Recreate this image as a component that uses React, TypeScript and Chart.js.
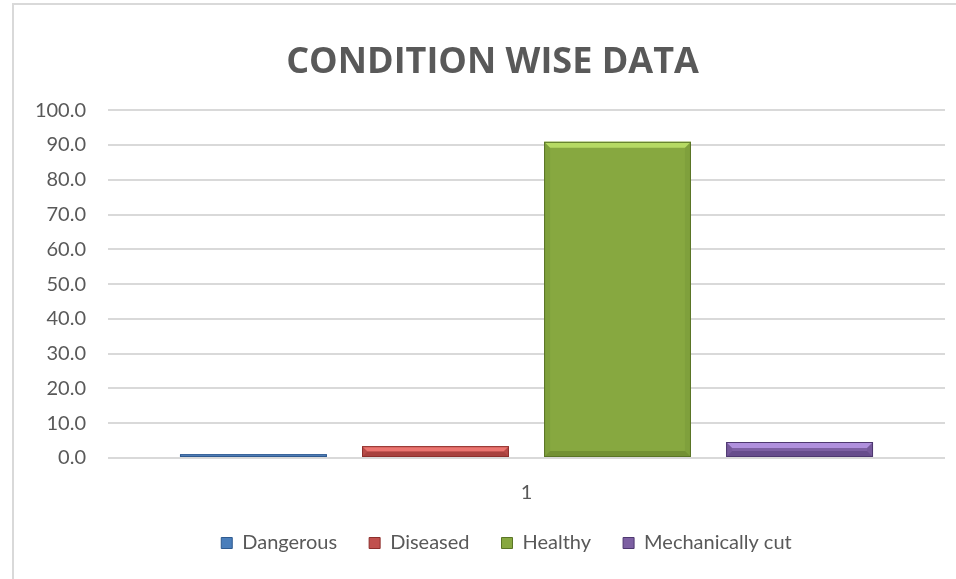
import React, { useEffect, useRef } from "react";
import { Chart, registerables } from "chart.js";

Chart.register(...registerables);

const categories = ["1"];
const seriesNames = ["Dangerous", "Diseased", "Healthy", "Mechanically cut"];
const dangerous = [1.1];
const diseased = [3.4];
const healthy = [90.9];
const mechanicallyCut = [4.6];
const yMin = 0;
const yMax = 100;
const yStep = 10;
const titleText = "CONDITION WISE DATA";

const seriesColors = ["#4A7EBB", "#C0504D", "#87A840", "#7D60A3"];
const seriesLight = ["#7FA9E0", "#F27B77", "#BEE36A", "#B899E8"];
const seriesDark = ["#2F5A8F", "#8C2F2C", "#5A7526", "#4E3870"];

// Excel centres title/legend on its chart frame, which extends past the window
const frameShiftPlugin = {
  id: "frameShift",
  afterLayout(chart: any) {
    if (chart.titleBlock) {
      chart.titleBlock.left += 14;
      chart.titleBlock.right += 14;
    }
    if (chart.legend) {
      chart.legend.left += 28;
      chart.legend.right += 28;
    }
  },
};

const bevelPlugin = {
  id: "bevel",
  afterDatasetsDraw(chart: any) {
    const ctx = chart.ctx;
    chart.data.datasets.forEach((ds: any, di: number) => {
      const meta = chart.getDatasetMeta(di);
      meta.data.forEach((el: any) => {
        const { x, y, base, width } = el.getProps(["x", "y", "base", "width"], true);
        const l = x - width / 2;
        const r = x + width / 2;
        const t = Math.min(y, base);
        const b = Math.max(y, base);
        const h = b - t;
        const bv = Math.min(6, h / 2);
        ctx.save();
        ctx.fillStyle = seriesLight[di];
        ctx.globalAlpha = 0.85;
        ctx.beginPath();
        ctx.moveTo(l, t);
        ctx.lineTo(r, t);
        ctx.lineTo(r - bv, t + bv);
        ctx.lineTo(l + bv, t + bv);
        ctx.closePath();
        ctx.fill();
        ctx.fillStyle = seriesDark[di];
        ctx.globalAlpha = 0.45;
        ctx.beginPath();
        ctx.moveTo(l, b);
        ctx.lineTo(r, b);
        ctx.lineTo(r - bv, b - bv);
        ctx.lineTo(l + bv, b - bv);
        ctx.closePath();
        ctx.fill();
        ctx.globalAlpha = 0.15;
        ctx.beginPath();
        ctx.moveTo(l, t);
        ctx.lineTo(l + bv, t + bv);
        ctx.lineTo(l + bv, b - bv);
        ctx.lineTo(l, b);
        ctx.closePath();
        ctx.fill();
        ctx.beginPath();
        ctx.moveTo(r, t);
        ctx.lineTo(r - bv, t + bv);
        ctx.lineTo(r - bv, b - bv);
        ctx.lineTo(r, b);
        ctx.closePath();
        ctx.fill();
        ctx.globalAlpha = 1;
        ctx.strokeStyle = seriesDark[di];
        ctx.lineWidth = 1;
        ctx.strokeRect(l + 0.5, t + 0.5, width - 1, h - 1);
        ctx.restore();
      });
    });
  },
};

export default function App() {
  const canvasRef = useRef<HTMLCanvasElement | null>(null);

  useEffect(() => {
    if (!canvasRef.current) return;
    const values = [dangerous, diseased, healthy, mechanicallyCut];
    const chart = new Chart(canvasRef.current, {
      type: "bar",
      data: {
        labels: categories,
        datasets: seriesNames.map((name, i) => ({
          label: name,
          data: values[i],
          backgroundColor: seriesColors[i],
          borderWidth: 0,
          categoryPercentage: 0.87,
          barPercentage: 0.807,
        })),
      },
      plugins: [bevelPlugin, frameShiftPlugin],
      options: {
        animation: false,
        responsive: false,
        maintainAspectRatio: false,
        layout: { padding: { top: 18, right: 11, left: 12, bottom: 16 } },
        plugins: {
          title: {
            display: true,
            text: titleText,
            color: "#595959",
            font: { family: "'Open Sans', sans-serif", size: 36, weight: "bold" },
            padding: { top: 23, bottom: 26 },
          },
          legend: {
            position: "bottom",
            labels: {
              color: "#595959",
              font: { family: "Lato, 'Open Sans', sans-serif", size: 20 },
              boxWidth: 11,
              boxHeight: 11,
              padding: 32,
              generateLabels: (chart: any) =>
                chart.data.datasets.map((ds: any, i: number) => ({
                  text: ds.label,
                  fillStyle: seriesColors[i],
                  strokeStyle: seriesDark[i],
                  lineWidth: 1,
                  datasetIndex: i,
                  fontColor: "#595959",
                })),
            },
          },
          tooltip: { enabled: false },
        },
        scales: {
          x: {
            grid: { display: false, drawTicks: false },
            border: { display: false },
            ticks: {
              color: "#595959",
              font: { family: "Lato, 'Open Sans', sans-serif", size: 20 },
              padding: 23,
            },
            afterFit: (s: any) => {
              s.height = 43;
            },
          },
          y: {
            min: yMin,
            max: yMax,
            grid: { color: "#D9D9D9", lineWidth: 2, drawTicks: false },
            border: { display: false },
            ticks: {
              stepSize: yStep,
              color: "#595959",
              font: { family: "Lato, 'Open Sans', sans-serif", size: 20 },
              padding: 22,
              callback: (v: any) => Number(v).toFixed(1),
            },
            afterFit: (s: any) => {
              s.width = 96;
            },
          },
        },
      },
    });
    return () => chart.destroy();
  }, []);

  return (
    <div style={{ position: "fixed", left: 0, top: 0, width: 956, height: 579, overflow: "hidden", background: "#fff" }}>
      <div
        style={{
          position: "absolute",
          left: 12,
          top: 3,
          width: 1200,
          height: 1200,
          border: "2px solid #D9D9D9",
          boxSizing: "border-box",
        }}
      />
      <canvas ref={canvasRef} width={956} height={579} style={{ position: "absolute", left: 0, top: 0 }} />
    </div>
  );
}
